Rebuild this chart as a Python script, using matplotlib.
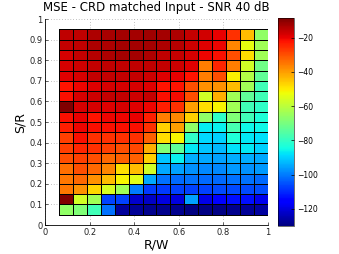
import numpy as np
import matplotlib
matplotlib.use("Agg")
import matplotlib.pyplot as plt

# cell edges (R/W and S/R)
x_edges = [0.0625 * k for k in range(1, 17)]
y_edges = [0.05 * k for k in range(1, 20)]

# MSE in dB, rows from top (S/R = 0.90..0.95) to bottom (0.05..0.10)
mse_rows_top_down = [
    [-15.7, -15.4, -13.6, -13.0, -12.9, -12.7, -12.2, -12.9, -13.8, -16.2, -17.6, -19.6, -25.8, -44.2, -66.3],
    [-16.2, -15.4, -13.8, -13.8, -12.9, -12.9, -12.9, -13.8, -14.5, -17.1, -18.9, -20.5, -37.0, -53.3, -63.9],
    [-18.0, -16.2, -14.5, -13.8, -12.9, -12.9, -13.8, -15.4, -16.2, -18.0, -20.5, -21.7, -29.9, -48.5, -63.9],
    [-18.0, -17.1, -16.2, -15.4, -15.4, -15.4, -15.4, -16.2, -17.1, -18.9, -36.0, -24.7, -36.0, -56.9, -71.0],
    [-18.9, -18.0, -16.2, -16.2, -16.2, -16.2, -17.1, -18.9, -19.6, -22.0, -36.0, -29.9, -50.4, -61.6, -73.4],
    [-22.0, -20.5, -18.9, -18.0, -18.0, -18.0, -18.9, -22.0, -22.0, -29.9, -38.5, -38.5, -44.2, -63.9, -78.1],
    [-21.7, -18.0, -17.1, -16.2, -16.2, -17.1, -16.2, -21.7, -21.3, -29.9, -56.9, -42.2, -63.9, -73.4, -78.1],
    [-8.7, -18.0, -18.0, -18.9, -18.0, -18.9, -20.5, -23.7, -25.8, -40.2, -48.5, -51.2, -63.9, -78.1, -80.4],
    [-21.7, -19.6, -22.0, -20.5, -20.5, -19.6, -23.7, -36.0, -37.1, -46.3, -66.3, -80.4, -68.7, -78.1, -82.8],
    [-23.7, -20.5, -21.7, -21.7, -21.7, -21.7, -25.8, -46.3, -40.2, -66.3, -86.5, -86.3, -77.0, -85.1, -85.1],
    [-27.9, -21.7, -25.8, -25.8, -25.8, -25.8, -32.0, -48.5, -51.2, -80.4, -89.1, -90.1, -82.8, -87.3, -88.2],
    [-27.9, -24.7, -25.8, -27.9, -29.9, -29.0, -42.2, -68.7, -73.4, -87.3, -91.2, -93.0, -88.2, -87.0, -90.1],
    [-30.0, -28.0, -30.0, -33.0, -32.0, -32.0, -46.3, -91.2, -86.3, -94.0, -94.8, -95.8, -94.0, -94.0, -94.8],
    [-34.0, -29.9, -33.0, -37.0, -48.5, -44.2, -56.9, -94.8, -95.8, -97.7, -98.7, -98.7, -96.8, -97.7, -96.8],
    [-35.0, -33.0, -38.2, -44.2, -51.2, -54.5, -94.8, -101.5, -102.5, -101.5, -102.5, -102.5, -101.5, -101.5, -102.5],
    [-35.0, -38.2, -47.4, -56.0, -63.9, -99.7, -108.0, -108.0, -107.2, -107.2, -107.2, -106.3, -106.3, -106.3, -105.4],
    [-8.7, -56.9, -63.9, -107.2, -107.2, -121.6, -122.5, -119.9, -119.9, -95.8, -119.1, -115.5, -113.0, -113.0, -118.2],
    [-66.3, -68.7, -78.1, -101.5, -127.0, -127.3, -128.3, -128.3, -128.3, -130.0, -129.2, -129.2, -128.3, -127.3, -126.6],
]

x_ticks = [0, 0.2, 0.4, 0.6, 0.8, 1]
x_tick_labels = ["0", "0.2", "0.4", "0.6", "0.8", "1"]
y_ticks = [0, 0.1, 0.2, 0.3, 0.4, 0.5, 0.6, 0.7, 0.8, 0.9, 1]
y_tick_labels = ["0", "0.1", "0.2", "0.3", "0.4", "0.5", "0.6", "0.7", "0.8", "0.9", "1"]
cbar_ticks = [-120, -100, -80, -60, -40, -20]
c_min, c_max = -130.0, -8.7

Z = np.array(mse_rows_top_down)[::-1]

fig = plt.figure(figsize=(3.39, 2.54), dpi=100)
ax = fig.add_axes([0.133, 0.114, 0.657, 0.811])
ax.set_axisbelow(True)
ax.grid(True, linestyle=(0, (1, 3)), color="#888888", linewidth=0.5)
mesh = ax.pcolormesh(x_edges, y_edges, Z, cmap="jet", vmin=c_min, vmax=c_max,
                     edgecolors="black", linewidth=0.5, zorder=2)
ax.set_xlim(0, 1)
ax.set_ylim(0, 1)
ax.set_xticks(x_ticks)
ax.set_xticklabels(x_tick_labels)
ax.set_yticks(y_ticks)
ax.set_yticklabels(y_tick_labels)
ax.tick_params(direction="in", length=2, width=0.5, labelsize=6, pad=2, colors="#222222")
for s in ["top", "right"]:
    ax.spines[s].set_visible(False)
for s in ["left", "bottom"]:
    ax.spines[s].set_linewidth(0.6)
ax.set_xlabel("R/W", fontsize=9, labelpad=1)
ax.set_ylabel("S/R", fontsize=9, labelpad=2)
ax.set_title("MSE - CRD matched Input - SNR 40 dB", fontsize=8.5, pad=6)

cax = fig.add_axes([0.821, 0.110, 0.046, 0.818])
cb = fig.colorbar(mesh, cax=cax, ticks=cbar_ticks)
cb.ax.tick_params(direction="in", length=2, width=0.5, labelsize=5.5, pad=2)
cb.outline.set_linewidth(0.4)

fig.savefig("out.png", dpi=100)
